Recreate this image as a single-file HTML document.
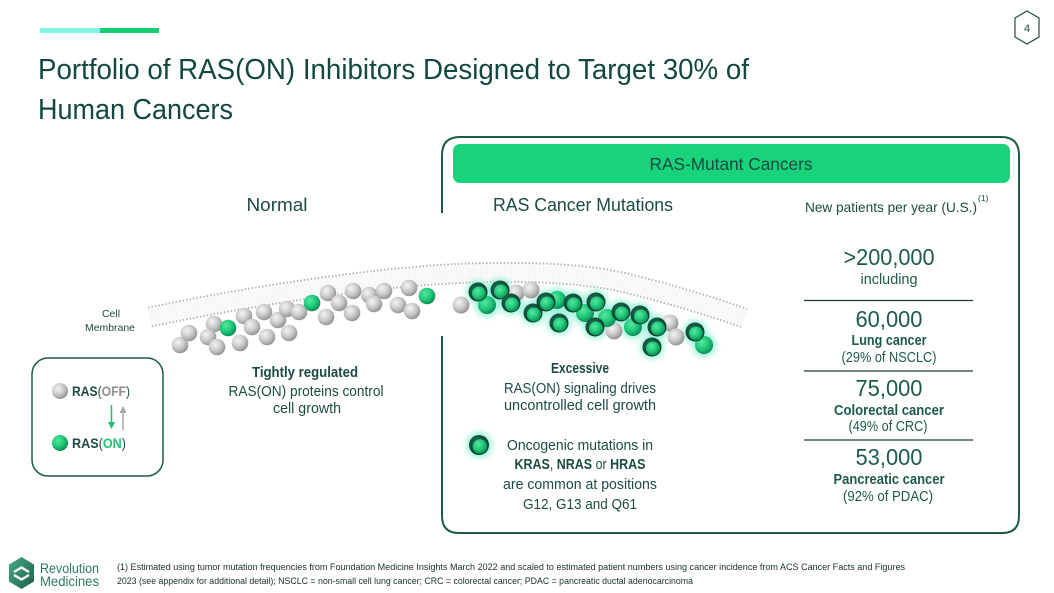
<!DOCTYPE html>
<html><head><meta charset="utf-8"><style>
html,body{margin:0;padding:0;background:#fff;width:1054px;height:593px;overflow:hidden}
svg{display:block}
text{font-family:"Liberation Sans",Arial,sans-serif}
</style></head><body>
<svg width="1054" height="593" viewBox="0 0 1054 593" xmlns="http://www.w3.org/2000/svg">
<defs>
<radialGradient id="gg" cx="38%" cy="35%" r="68%"><stop offset="0" stop-color="#f4f4f4"/><stop offset="0.55" stop-color="#c9c9c9"/><stop offset="1" stop-color="#909090"/></radialGradient>
<radialGradient id="gn" cx="38%" cy="35%" r="68%"><stop offset="0" stop-color="#55e8a2"/><stop offset="0.55" stop-color="#1fc878"/><stop offset="1" stop-color="#0c8a52"/></radialGradient>
<radialGradient id="gd" cx="40%" cy="35%" r="70%"><stop offset="0" stop-color="#1d6e52"/><stop offset="1" stop-color="#093627"/></radialGradient>
<filter id="glow" x="-60%" y="-60%" width="220%" height="220%"><feGaussianBlur stdDeviation="3"/></filter>
<linearGradient id="lg" x1="0" y1="0" x2="1" y2="1"><stop offset="0" stop-color="#4aa888"/><stop offset="1" stop-color="#1b5e4a"/></linearGradient>
</defs>
<rect width="1054" height="593" fill="#fff"/>

<!-- accent bars -->
<rect x="40" y="28" width="60" height="5" fill="#80f5e2"/>
<rect x="100" y="28" width="59" height="5" fill="#17cc72"/>

<!-- page number -->
<polygon points="1027,11 1039,18 1039,37 1027,44 1015,37 1015,18" fill="none" stroke="#1d4d43" stroke-width="1.2"/>
<text x="1027" y="32" font-size="11" text-anchor="middle" fill="#1d4d43">4</text>

<!-- title -->
<text x="38" y="79" font-size="28.5" fill="#12483f" textLength="711" lengthAdjust="spacingAndGlyphs">Portfolio of RAS(ON) Inhibitors Designed to Target 30% of</text>
<text x="38" y="119" font-size="28.5" fill="#12483f" textLength="195" lengthAdjust="spacingAndGlyphs">Human Cancers</text>

<!-- main box -->
<path d="M442,213 L442,155 Q442,137 460,137 L1001,137 Q1019,137 1019,155 L1019,516 Q1019,533 1002,533 L459,533 Q442,533 442,516 L442,336" fill="none" stroke="#1b5a4a" stroke-width="2"/>
<rect x="453" y="144" width="557" height="39" rx="7" fill="#18d37b"/>
<text x="731" y="170" font-size="17.5" text-anchor="middle" fill="#1a4a40" textLength="163" lengthAdjust="spacingAndGlyphs">RAS-Mutant Cancers</text>

<!-- column headers -->
<text x="277" y="211" font-size="18" text-anchor="middle" fill="#1c4b43" textLength="61" lengthAdjust="spacingAndGlyphs">Normal</text>
<text x="583" y="211" font-size="18" text-anchor="middle" fill="#1c4b43" textLength="180" lengthAdjust="spacingAndGlyphs">RAS Cancer Mutations</text>
<text x="805" y="212" font-size="13.6" fill="#1c4b43" textLength="172" lengthAdjust="spacingAndGlyphs">New patients per year (U.S.)</text>
<text x="978" y="201" font-size="8.5" fill="#1c4b43">(1)</text>

<!-- membrane -->
<g fill="none">
<path d="M150,317 C250,296 380,276 470,273 C540,271 590,274 630,284 C670,294 710,306 744,318" stroke="#b9b9b9" stroke-width="21" stroke-dasharray="1.6 1.9"/>
<path d="M150,317 C250,296 380,276 470,273 C540,271 590,274 630,284 C670,294 710,306 744,318" stroke="#fcfcfc" stroke-width="17"/>
<path d="M150,317 C250,296 380,276 470,273 C540,271 590,274 630,284 C670,294 710,306 744,318" stroke="#ededed" stroke-width="15" stroke-dasharray="0.6 1.8"/>
</g>

<text x="111" y="317" font-size="10.5" text-anchor="middle" fill="#1c4b43">Cell</text>
<text x="110" y="331" font-size="10.5" text-anchor="middle" fill="#1c4b43" textLength="50" lengthAdjust="spacingAndGlyphs">Membrane</text>

<!-- normal balls -->
<g>
<circle cx="180" cy="345" r="8.3" fill="url(#gg)"/>
<circle cx="189" cy="333" r="8.3" fill="url(#gg)"/>
<circle cx="214" cy="324" r="8.3" fill="url(#gg)"/>
<circle cx="208" cy="337" r="8.3" fill="url(#gg)"/>
<circle cx="217" cy="347" r="8.3" fill="url(#gg)"/>
<circle cx="228" cy="328" r="8.3" fill="url(#gn)"/>
<circle cx="240" cy="343" r="8.3" fill="url(#gg)"/>
<circle cx="244" cy="316" r="8.3" fill="url(#gg)"/>
<circle cx="252" cy="327" r="8.3" fill="url(#gg)"/>
<circle cx="264" cy="312" r="8.3" fill="url(#gg)"/>
<circle cx="267" cy="337" r="8.3" fill="url(#gg)"/>
<circle cx="278" cy="320" r="8.3" fill="url(#gg)"/>
<circle cx="287" cy="309" r="8.3" fill="url(#gg)"/>
<circle cx="289" cy="333" r="8.3" fill="url(#gg)"/>
<circle cx="299" cy="312" r="8.3" fill="url(#gg)"/>
<circle cx="312" cy="303" r="8.3" fill="url(#gn)"/>
<circle cx="328" cy="293" r="8.3" fill="url(#gg)"/>
<circle cx="326" cy="317" r="8.3" fill="url(#gg)"/>
<circle cx="339" cy="303" r="8.3" fill="url(#gg)"/>
<circle cx="353" cy="291" r="8.3" fill="url(#gg)"/>
<circle cx="352" cy="313" r="8.3" fill="url(#gg)"/>
<circle cx="369" cy="295" r="8.3" fill="url(#gg)"/>
<circle cx="374" cy="304" r="8.3" fill="url(#gg)"/>
<circle cx="384" cy="291" r="8.3" fill="url(#gg)"/>
<circle cx="398" cy="305" r="8.3" fill="url(#gg)"/>
<circle cx="409" cy="288" r="8.3" fill="url(#gg)"/>
<circle cx="412" cy="311" r="8.3" fill="url(#gg)"/>
<circle cx="427" cy="296" r="8.3" fill="url(#gn)"/>
</g>

<!-- cancer balls: glow -->
<g fill="#86f0d4" filter="url(#glow)" opacity="0.8">
<circle cx="478" cy="292" r="12"/><circle cx="500" cy="290" r="12"/><circle cx="487" cy="305" r="12"/>
<circle cx="511" cy="303" r="12"/><circle cx="533" cy="313" r="12"/><circle cx="546" cy="302" r="12"/>
<circle cx="557" cy="300" r="12"/><circle cx="573" cy="303" r="12"/><circle cx="585" cy="313" r="12"/>
<circle cx="596" cy="302" r="12"/><circle cx="559" cy="323" r="12"/><circle cx="595" cy="327" r="12"/>
<circle cx="607" cy="318" r="12"/><circle cx="621" cy="312" r="12"/><circle cx="633" cy="327" r="12"/>
<circle cx="640" cy="315" r="12"/><circle cx="657" cy="327" r="12"/><circle cx="652" cy="347" r="12"/>
<circle cx="695" cy="332" r="12"/><circle cx="704" cy="345" r="12"/>
<circle cx="479" cy="445" r="13"/>
</g>
<!-- gray in cancer -->
<g fill="url(#gg)">
<circle cx="461" cy="305" r="8.5"/><circle cx="516" cy="293" r="8.5"/><circle cx="531" cy="290" r="8.5"/>
<circle cx="614" cy="331" r="8.5"/><circle cx="670" cy="323" r="8.5"/><circle cx="676" cy="337" r="8.5"/>
</g>
<!-- plain green -->
<g fill="url(#gn)">
<circle cx="487" cy="305" r="9"/><circle cx="557" cy="300" r="9"/><circle cx="585" cy="313" r="9"/>
<circle cx="607" cy="318" r="9"/><circle cx="633" cy="327" r="9"/><circle cx="704" cy="345" r="9"/>
</g>
<!-- dark ring green -->
<g>
<circle cx="478" cy="292" r="9.5" fill="url(#gd)"/><circle cx="479" cy="293.5" r="7" fill="url(#gn)"/>
<circle cx="500" cy="290" r="9.5" fill="url(#gd)"/><circle cx="501" cy="291.5" r="7" fill="url(#gn)"/>
<circle cx="511" cy="303" r="9.5" fill="url(#gd)"/><circle cx="512" cy="304.5" r="7" fill="url(#gn)"/>
<circle cx="533" cy="313" r="9.5" fill="url(#gd)"/><circle cx="534" cy="314.5" r="7" fill="url(#gn)"/>
<circle cx="546" cy="302" r="9.5" fill="url(#gd)"/><circle cx="547" cy="303.5" r="7" fill="url(#gn)"/>
<circle cx="573" cy="303" r="9.5" fill="url(#gd)"/><circle cx="574" cy="304.5" r="7" fill="url(#gn)"/>
<circle cx="596" cy="302" r="9.5" fill="url(#gd)"/><circle cx="597" cy="303.5" r="7" fill="url(#gn)"/>
<circle cx="559" cy="323" r="9.5" fill="url(#gd)"/><circle cx="560" cy="324.5" r="7" fill="url(#gn)"/>
<circle cx="595" cy="327" r="9.5" fill="url(#gd)"/><circle cx="596" cy="328.5" r="7" fill="url(#gn)"/>
<circle cx="621" cy="312" r="9.5" fill="url(#gd)"/><circle cx="622" cy="313.5" r="7" fill="url(#gn)"/>
<circle cx="640" cy="315" r="9.5" fill="url(#gd)"/><circle cx="641" cy="316.5" r="7" fill="url(#gn)"/>
<circle cx="657" cy="327" r="9.5" fill="url(#gd)"/><circle cx="658" cy="328.5" r="7" fill="url(#gn)"/>
<circle cx="652" cy="347" r="9.5" fill="url(#gd)"/><circle cx="653" cy="348.5" r="7" fill="url(#gn)"/>
<circle cx="695" cy="332" r="9.5" fill="url(#gd)"/><circle cx="696" cy="333.5" r="7" fill="url(#gn)"/>
<circle cx="479" cy="445" r="10" fill="url(#gd)"/><circle cx="480" cy="446.5" r="7.3" fill="url(#gn)"/>
</g>

<!-- legend box -->
<rect x="32" y="358" width="131" height="118" rx="16" fill="none" stroke="#1b5a4a" stroke-width="1.5"/>
<circle cx="60" cy="391" r="8" fill="url(#gg)"/>
<text x="72" y="396" font-size="14" fill="#1c4b43" textLength="58" lengthAdjust="spacingAndGlyphs"><tspan font-weight="bold">RAS</tspan>(<tspan fill="#8f8f8f" font-weight="bold">OFF</tspan>)</text>
<circle cx="60" cy="443" r="8" fill="url(#gn)"/>
<text x="72" y="448" font-size="14" fill="#1c4b43" textLength="54" lengthAdjust="spacingAndGlyphs"><tspan font-weight="bold">RAS</tspan>(<tspan fill="#1fc474" font-weight="bold">ON</tspan>)</text>
<line x1="111.5" y1="405" x2="111.5" y2="423" stroke="#1fc070" stroke-width="1.5"/>
<polygon points="108,422 115,422 111.5,429" fill="#1fc070"/>
<line x1="123" y1="430" x2="123" y2="412" stroke="#a6a6a6" stroke-width="1.5"/>
<polygon points="119.5,413 126.5,413 123,406" fill="#a6a6a6"/>

<!-- normal texts -->
<text x="305" y="377" font-size="14.3" font-weight="bold" text-anchor="middle" fill="#1c4b43" textLength="106" lengthAdjust="spacingAndGlyphs">Tightly regulated</text>
<text x="306" y="396" font-size="14.3" text-anchor="middle" fill="#1c4b43" textLength="155" lengthAdjust="spacingAndGlyphs">RAS(ON) proteins control</text>
<text x="307" y="413" font-size="14.3" text-anchor="middle" fill="#1c4b43" textLength="68" lengthAdjust="spacingAndGlyphs">cell growth</text>

<!-- cancer texts -->
<text x="580" y="373" font-size="14.3" font-weight="bold" text-anchor="middle" fill="#1c4b43" textLength="58" lengthAdjust="spacingAndGlyphs">Excessive</text>
<text x="580" y="393" font-size="14.3" text-anchor="middle" fill="#1c4b43" textLength="152" lengthAdjust="spacingAndGlyphs">RAS(ON) signaling drives</text>
<text x="580" y="410" font-size="14.3" text-anchor="middle" fill="#1c4b43" textLength="152" lengthAdjust="spacingAndGlyphs">uncontrolled cell growth</text>
<text x="580" y="450" font-size="14.3" text-anchor="middle" fill="#1c4b43" textLength="146" lengthAdjust="spacingAndGlyphs">Oncogenic mutations in</text>
<text x="580" y="469" font-size="14.3" text-anchor="middle" fill="#1c4b43" textLength="131" lengthAdjust="spacingAndGlyphs"><tspan font-weight="bold">KRAS</tspan>, <tspan font-weight="bold">NRAS</tspan> or <tspan font-weight="bold">HRAS</tspan></text>
<text x="580" y="489" font-size="14.3" text-anchor="middle" fill="#1c4b43" textLength="154" lengthAdjust="spacingAndGlyphs">are common at positions</text>
<text x="580" y="509" font-size="14.3" text-anchor="middle" fill="#1c4b43" textLength="114" lengthAdjust="spacingAndGlyphs">G12, G13 and Q61</text>

<!-- right column -->
<g fill="#1d5a4d" text-anchor="middle">
<text x="889" y="265" font-size="23" textLength="91" lengthAdjust="spacingAndGlyphs">&gt;200,000</text>
<text x="889" y="284" font-size="14.3" textLength="57" lengthAdjust="spacingAndGlyphs">including</text>
<text x="889" y="327" font-size="23" textLength="67" lengthAdjust="spacingAndGlyphs">60,000</text>
<text x="889" y="345" font-size="14.3" font-weight="bold" textLength="75" lengthAdjust="spacingAndGlyphs">Lung cancer</text>
<text x="889" y="362" font-size="14.3" textLength="95" lengthAdjust="spacingAndGlyphs">(29% of NSCLC)</text>
<text x="889" y="396" font-size="23" textLength="67" lengthAdjust="spacingAndGlyphs">75,000</text>
<text x="889" y="415" font-size="14.3" font-weight="bold" textLength="110" lengthAdjust="spacingAndGlyphs">Colorectal cancer</text>
<text x="888" y="431" font-size="14.3" textLength="79" lengthAdjust="spacingAndGlyphs">(49% of CRC)</text>
<text x="889" y="465" font-size="23" textLength="67" lengthAdjust="spacingAndGlyphs">53,000</text>
<text x="889" y="484" font-size="14.3" font-weight="bold" textLength="111" lengthAdjust="spacingAndGlyphs">Pancreatic cancer</text>
<text x="888" y="501" font-size="14.3" textLength="90" lengthAdjust="spacingAndGlyphs">(92% of PDAC)</text>
</g>
<g stroke="#1c3f38" stroke-width="1.3">
<line x1="804" y1="300.5" x2="973" y2="300.5"/>
<line x1="804" y1="371" x2="973" y2="371"/>
<line x1="804" y1="440" x2="973" y2="440"/>
</g>

<!-- footer logo -->
<polygon points="21.5,557 34,564.5 34,581.5 21.5,589 9,581.5 9,564.5" fill="url(#lg)"/>
<polyline points="14,572 21.5,567.5 29,572" fill="none" stroke="#fff" stroke-width="2.4"/>
<polyline points="14,575 21.5,579.5 29,575" fill="none" stroke="#fff" stroke-width="2.4"/>
<text x="40" y="573" font-size="13.5" fill="#2a7b5f" textLength="59" lengthAdjust="spacingAndGlyphs">Revolution</text>
<text x="40" y="586" font-size="13.5" fill="#2a7b5f" textLength="59" lengthAdjust="spacingAndGlyphs">Medicines</text>

<!-- footnote -->
<text x="117" y="570" font-size="9.5" fill="#1a2e2a" textLength="788" lengthAdjust="spacingAndGlyphs">(1) Estimated using tumor mutation frequencies from Foundation Medicine Insights March 2022 and scaled to estimated patient numbers using cancer incidence from ACS Cancer Facts and Figures</text>
<text x="117" y="584" font-size="9.5" fill="#1a2e2a" textLength="576" lengthAdjust="spacingAndGlyphs">2023 (see appendix for additional detail); NSCLC = non-small cell lung cancer; CRC = colorectal cancer; PDAC = pancreatic ductal adenocarcinoma</text>
</svg>
</body></html>
